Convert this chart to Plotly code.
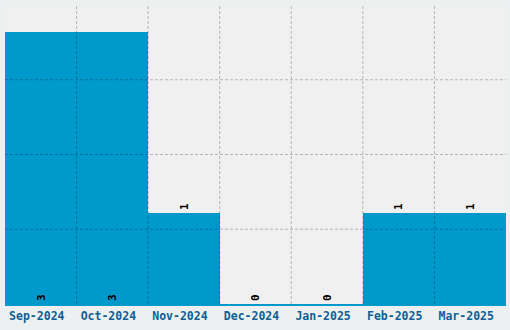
import plotly.graph_objects as go

months = ["Sep-2024", "Oct-2024", "Nov-2024", "Dec-2024", "Jan-2025", "Feb-2025", "Mar-2025"]
counts = [3, 3, 1, 0, 0, 1, 1]

ymax = 3.3
positions = ["inside" if v >= 2 else "outside" for v in counts]

fig = go.Figure(go.Bar(
    x=months, y=counts,
    text=[str(v) for v in counts],
    textposition=positions,
    insidetextanchor="start",
    textangle=-90,
    textfont=dict(family="DejaVu Sans Mono", size=11, color="#000000", weight="bold"),
    marker=dict(color="#0099cc", line=dict(width=0)),
    cliponaxis=False,
))

grid = dict(color="rgba(0,0,0,0.25)", width=1, dash="3px,2px")
shapes = []
for i in range(1, len(months)):
    shapes.append(dict(type="line", layer="above", xref="x", yref="paper",
                       x0=i - 0.5, x1=i - 0.5, y0=0, y1=1, line=grid))
for k in range(1, 4):
    shapes.append(dict(type="line", layer="above", xref="paper", yref="y",
                       x0=0, x1=1, y0=ymax / 4 * k, y1=ymax / 4 * k, line=grid))

fig.update_layout(
    width=510, height=330,
    margin=dict(l=5, r=4, t=5, b=26),
    paper_bgcolor="#ecf0f1",
    plot_bgcolor="#f0f0f0",
    bargap=0,
    showlegend=False,
    font=dict(family="DejaVu Sans Mono"),
    shapes=shapes,
)
fig.update_xaxes(
    type="category", showgrid=False,
    range=[-0.5, len(months) - 0.5],
    layer="above traces",
    showline=True, linecolor="#0099cc", linewidth=2,
    ticklabelshift=-4,
    ticks="", tickfont=dict(family="DejaVu Sans Mono", size=11.5, color="#0e5f95", weight="bold"),
)
fig.update_yaxes(
    range=[0, ymax], showticklabels=False, showgrid=False, zeroline=False,
)

fig.write_html("out.html")
